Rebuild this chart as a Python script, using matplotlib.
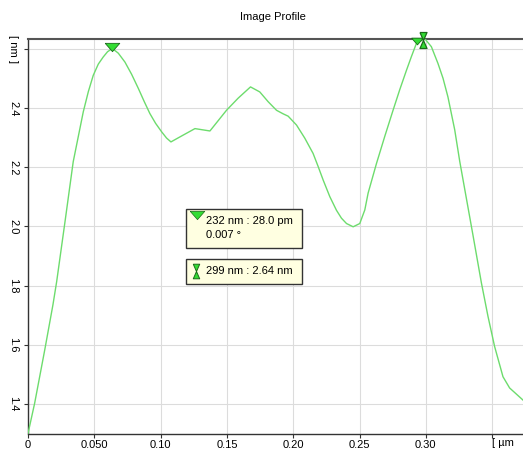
import matplotlib
matplotlib.use("Agg")
import matplotlib.pyplot as plt
from matplotlib.patches import Rectangle

plt.rcParams['font.family'] = ['Liberation Sans', 'DejaVu Sans']

# profile data (x in µm, height in nm)
x_um = [0.0, 0.0050, 0.0126, 0.0188, 0.0216, 0.0279, 0.0341, 0.0417, 0.0455,
        0.0492, 0.0530, 0.0567, 0.0600, 0.0636, 0.0681, 0.0731, 0.0781, 0.0832,
        0.0877, 0.0919, 0.0962, 0.1008, 0.1045, 0.1078, 0.1146, 0.1259, 0.1372,
        0.1497, 0.1585, 0.1678, 0.1748, 0.1811, 0.1874, 0.1924, 0.1962, 0.2025,
        0.2087, 0.2150, 0.2188, 0.2226, 0.2276, 0.2326, 0.2364, 0.2402, 0.2452,
        0.2502, 0.2540, 0.2565, 0.2628, 0.2690, 0.2753, 0.2803, 0.2854, 0.2891,
        0.2929, 0.2992, 0.3042, 0.3092, 0.3130, 0.3167, 0.3218, 0.3256, 0.3306,
        0.3356, 0.3419, 0.3469, 0.3519, 0.3582, 0.3632, 0.3733]
z_nm = [1.30, 1.402, 1.582, 1.735, 1.813, 2.016, 2.219, 2.388, 2.456,
        2.511, 2.549, 2.573, 2.591, 2.602, 2.586, 2.556, 2.515, 2.467,
        2.422, 2.382, 2.349, 2.320, 2.299, 2.286, 2.303, 2.331, 2.323,
        2.393, 2.434, 2.472, 2.455, 2.422, 2.393, 2.381, 2.373, 2.343,
        2.299, 2.247, 2.203, 2.157, 2.101, 2.055, 2.028, 2.010, 1.999,
        2.010, 2.056, 2.113, 2.213, 2.304, 2.393, 2.462, 2.528, 2.574,
        2.619, 2.635, 2.608, 2.551, 2.501, 2.438, 2.327, 2.220, 2.095,
        1.970, 1.810, 1.696, 1.594, 1.492, 1.454, 1.413]

xticks = [0.0, 0.05, 0.10, 0.15, 0.20, 0.25, 0.30, 0.35]
xticklabels = ['0', '0.050', '0.10', '0.15', '0.20', '0.25', '0.30', '']
yticks = [1.4, 1.6, 1.8, 2.0, 2.2, 2.4, 2.6]
yticklabels = ['1.4', '1.6', '1.8', '2.0', '2.2', '2.4', '[ nm ]']

cursor1 = (0.0635, 2.606)
cursor2 = (0.2931, 2.627)
cursor3 = (0.2979, 2.631)
box1_lines = ['232 nm : 28.0 pm', '0.007 °']
box2_line = '299 nm : 2.64 nm'

W, H = 523, 451
fig = plt.figure(figsize=(W / 100, H / 100), dpi=100)
ax = fig.add_axes([28 / W, 1 - 433.5 / H, 1 - 28 / W + 0.01, (433.5 - 39) / H])

ax.plot(x_um, z_nm, color='#6ddc6d', lw=1.0, zorder=3, solid_joinstyle='round')
ax.set_xlim(0, 0.3733 * (1 + 0.01 * W / (W - 28)))
ax.set_ylim(1.30, 2.634)

ax.set_xticks(xticks)
ax.set_xticklabels(xticklabels, fontsize=8)
ax.set_yticks(yticks)
ax.set_yticklabels(yticklabels, fontsize=8, rotation=-90, va='center')
ax.tick_params(direction='out', length=3, width=0.8, color='#333333', pad=2)
ax.tick_params(axis='y', pad=4)
ax.text(0.35, -0.012, '[ µm', transform=ax.get_xaxis_transform(), ha='left',
        va='top', fontsize=8)
ax.grid(True, color='#dcdcdc', lw=0.8)
ax.set_axisbelow(True)
for s in ['left', 'bottom']:
    ax.spines[s].set_color('#333333')
    ax.spines[s].set_linewidth(1.0)
ax.spines['top'].set_color('#555555')
ax.spines['top'].set_linewidth(1.5)
ax.spines['right'].set_visible(False)

green = '#33dd33'
edge = '#1a6b1a'
tri = [(-1, 0.57), (1, 0.57), (0, -0.57), (-1, 0.57)]
hour = [(-0.44, 1), (0.44, 1), (0, 0), (0.44, -1), (-0.44, -1), (0, 0), (-0.44, 1)]

ax.plot(*cursor1, marker=tri, ms=10.5, mfc=green, mec=edge, mew=0.6, clip_on=False, zorder=5)
ax.plot(*cursor2, marker=tri, ms=8.5, mfc=green, mec=edge, mew=0.6, clip_on=False, zorder=5)
ax.plot(*cursor3, marker=hour, ms=11.5, mfc=green, mec=edge, mew=0.9, clip_on=False, zorder=6)

fig.text(273 / W, 1 - 17 / H, 'Image Profile', ha='center', va='center', fontsize=8)

def px(xp, yp):
    return xp / W, 1 - yp / H

# box 1
x0, y0 = px(186, 248)
fig.add_artist(Rectangle((x0, y0), 116 / W, 39 / H, transform=fig.transFigure,
                         facecolor='#ffffe1', edgecolor='#333333', lw=1.0, zorder=10))
fig.text(*px(206, 221), box1_lines[0], fontsize=8, va='center', ha='left', zorder=11)
fig.text(*px(206, 235), box1_lines[1], fontsize=8, va='center', ha='left', zorder=11)
fig.add_artist(plt.Line2D([197 / W], [1 - 215 / H], marker=tri, ms=10.5, mfc=green,
                          mec=edge, mew=0.5, transform=fig.transFigure, zorder=12))
# box 2
x0, y0 = px(186, 284)
fig.add_artist(Rectangle((x0, y0), 116 / W, 25 / H, transform=fig.transFigure,
                         facecolor='#ffffe1', edgecolor='#333333', lw=1.0, zorder=10))
fig.text(*px(206, 271), box2_line, fontsize=8, va='center', ha='left', zorder=11)
fig.add_artist(plt.Line2D([196 / W], [1 - 271 / H], marker=hour, ms=10.5, mfc=green,
                          mec=edge, mew=0.7, transform=fig.transFigure, zorder=12))

fig.savefig('out.png', dpi=100)
